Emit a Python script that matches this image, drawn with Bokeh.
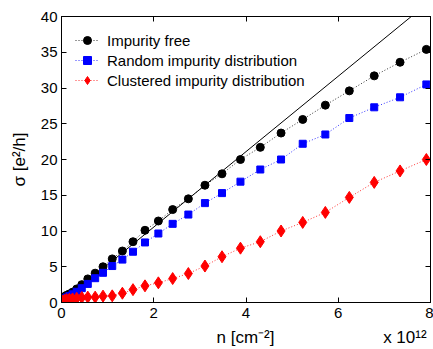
from bokeh.plotting import figure
from bokeh.models import Range1d, LinearAxis, FixedTicker, Legend, LegendItem, CustomJSTickFormatter
from bokeh.embed import file_html
from bokeh.resources import INLINE

# data (n in 1e12 cm^-2, sigma in e^2/h)
n_vals = [0.02, 0.04, 0.07, 0.11, 0.17, 0.24, 0.33, 0.44, 0.57, 0.73, 0.90, 1.10, 1.32, 1.55,
          1.81, 2.10, 2.41, 2.75, 3.11, 3.48, 3.88, 4.31, 4.76, 5.23, 5.72, 6.24, 6.78, 7.34, 7.91]
sigma_free = [0.5, 0.7, 0.85, 1.0, 1.2, 1.45, 1.9, 2.5, 3.3, 4.1, 5.0, 6.1, 7.2, 8.5,
              10.1, 11.4, 13.0, 14.5, 16.4, 18.0, 20.0, 21.7, 23.7, 25.6, 27.6, 29.6, 31.7, 33.6, 35.4]
sigma_random = [0.35, 0.45, 0.55, 0.7, 0.9, 1.15, 1.5, 2.0, 2.6, 3.4, 4.15, 5.1, 6.0, 7.1,
                8.4, 9.65, 11.0, 12.3, 13.9, 15.3, 16.9, 18.6, 20.0, 22.2, 23.5, 25.8, 27.3, 28.7, 30.5]
sigma_cluster = [0.15, 0.2, 0.3, 0.4, 0.45, 0.5, 0.6, 0.7, 0.75, 0.75, 0.89, 0.93, 1.3, 1.8,
                 2.33, 2.75, 3.35, 4.05, 5.1, 6.4, 7.6, 8.5, 10.0, 11.2, 12.6, 14.7, 16.8, 18.4, 20.0]
theory_n = [0.0, 8.0]
theory_sigma = [0.0, 42.2]

x_ticks = [0, 2, 4, 6, 8]
y_ticks = [0, 5, 10, 15, 20, 25, 30, 35, 40]
labels = ["Impurity free", "Random impurity distribution", "Clustered impurity distribution"]
x_label = "n [cm⁻²]"
x_exponent = "x 10¹²"
y_label = "σ [e²/h]"
FONT = "Liberation Sans"

NB = "\u00a0"
x_label_full = NB * 32 + x_label + NB * 23 + x_exponent

p = figure(width=433, height=349, output_backend="svg", toolbar_location=None,
           x_range=Range1d(0, 8), y_range=Range1d(0, 40),
           min_border_left=61, min_border_right=3, min_border_top=16, min_border_bottom=47)
p.background_fill_color = "white"
p.border_fill_color = "white"
p.grid.visible = False
p.outline_line_color = "black"
p.outline_line_width = 1

for ax in (p.xaxis[0], p.yaxis[0]):
    ax.major_tick_in = 5
    ax.major_tick_out = 0
    ax.minor_tick_line_color = None
    ax.axis_line_color = "black"
    ax.major_label_text_font = FONT
    ax.major_label_text_font_size = "15px"
    ax.major_label_text_color = "black"
    ax.axis_label_text_font = FONT
    ax.axis_label_text_font_size = "17px"
    ax.axis_label_text_font_style = "normal"
    ax.axis_label_text_color = "black"

p.xaxis[0].ticker = FixedTicker(ticks=x_ticks)
p.yaxis[0].ticker = FixedTicker(ticks=y_ticks)
p.xaxis[0].axis_label = x_label_full
p.yaxis[0].axis_label = y_label
p.xaxis[0].major_label_standoff = 5
p.yaxis[0].major_label_standoff = 4
p.xaxis[0].axis_label_standoff = 7
p.yaxis[0].axis_label_standoff = 9

empty = CustomJSTickFormatter(code="return ''")
top = LinearAxis(ticker=FixedTicker(ticks=x_ticks), formatter=empty, major_tick_in=5, major_tick_out=0,
                 minor_tick_line_color=None, major_label_standoff=0, major_label_text_font_size="0px")
right = LinearAxis(ticker=FixedTicker(ticks=y_ticks), formatter=empty, major_tick_in=5, major_tick_out=0,
                   minor_tick_line_color=None, major_label_standoff=0, major_label_text_font_size="0px")
p.add_layout(top, "above")
p.add_layout(right, "right")

p.line(theory_n, theory_sigma, line_color="black", line_width=1)

colors = ["black", "#0000ff", "#ff0000"]
series = [sigma_free, sigma_random, sigma_cluster]
markers = ["circle", "square", "diamond"]
sizes = [8, 7, 12]
items = []
for lab, col, ys, mk, sz in zip(labels, colors, series, markers, sizes):
    l = p.line(n_vals, ys, line_color=col, line_width=1, line_dash="1 2", line_alpha=0.8)
    s = p.scatter(n_vals, ys, marker=mk, size=sz, fill_color=col, line_color=col)
    items.append(LegendItem(label=lab, renderers=[l, s]))

legend = Legend(items=items, border_line_alpha=0, background_fill_alpha=0,
                label_text_font=FONT, label_text_font_size="15px", label_text_color="black",
                glyph_width=24, glyph_height=20, label_height=20, spacing=0, label_standoff=8,
                padding=4)
p.add_layout(legend, "center")
p.legend.location = "top_left"
p.legend.margin = 10

open("out.html", "w").write(file_html(p, INLINE))
